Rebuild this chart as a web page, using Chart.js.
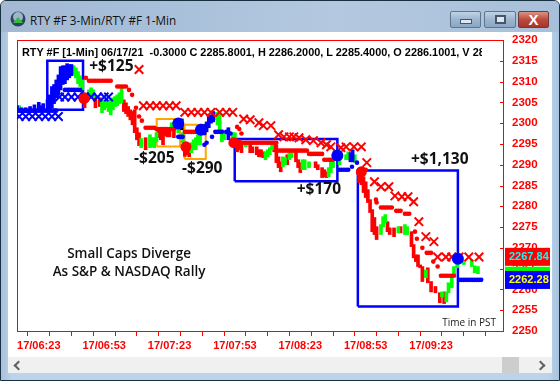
<!DOCTYPE html>
<html>
<head>
<meta charset="utf-8">
<title>RTY #F 3-Min/RTY #F 1-Min</title>
<script src="https://cdn.jsdelivr.net/npm/chart.js@4/dist/chart.umd.min.js"></script>
<style>
html,body{margin:0;padding:0;width:560px;height:381px;overflow:hidden;background:#fff}
#win{position:absolute;left:0;top:0;width:558px;height:379px;border:1px solid #16303f;border-radius:6px 6px 0 0;
  background:linear-gradient(90deg,#a9c0da 0,#bcd3ea 2%,#bcd3ea 98%,#a9c4de 100%)}
#bar{position:absolute;left:0;top:0;width:558px;height:31px;border-radius:5px 5px 0 0;
  background:linear-gradient(90deg,#a3b9d3 0,#a9c0da 30%,#b4c9df 60%,#a8bfd9 100%)}
#bar span{position:absolute;left:29px;top:11px;font:11.7px/17px "Open Sans",sans-serif;color:#111}
#icon{position:absolute;left:9px;top:10px}
.btn{position:absolute;top:10px;height:15px;border:1px solid #5d7690;border-radius:2px;
  background:linear-gradient(#c0d2e6,#9db5d0 50%,#8ba6c4)}
.btn i{position:absolute;display:block}
#client{position:absolute;left:7px;top:31px;width:544px;height:325px;background:#fff}
#sb{position:absolute;left:7px;top:356px;width:544px;height:16px;background:#f0f0f0}
#thumb{position:absolute;left:494px;top:0;width:17px;height:16px;background:#cdcdcd}
.chev{position:absolute;top:5px;width:5px;height:5px;border-left:2px solid #606060;border-bottom:2px solid #606060}
#header{position:absolute;left:22px;top:45px;width:460px;height:15px;overflow:hidden;white-space:pre;
  font:bold 10.9px/15px "Liberation Sans",Arial,sans-serif;color:#000;z-index:3}
canvas{position:absolute;left:0;top:0;z-index:2}
</style>
</head>
<body>
<div id="win">
  <div id="bar">
    <svg id="icon" width="17" height="17"><circle cx="8" cy="8" r="7.5" fill="#2d4660"/><circle cx="8" cy="6" r="5" fill="#9fb4c8"/><path d="M8 6l5 6H3z" fill="#2fbf3a"/></svg>
    <span>RTY #F 3-Min/RTY #F 1-Min</span>
    <div class="btn" style="left:449px;width:29px"><i style="left:9px;top:7px;width:10px;height:3px;background:#dfe6ee;border:1px solid #44566a"></i></div>
    <div class="btn" style="left:483px;width:30px"><i style="left:10px;top:3px;width:7px;height:5px;border:2px solid #44566a;background:#dfe6ee"></i></div>
    <div class="btn" style="left:517px;width:29px;background:linear-gradient(#d99486,#bd4a3c 50%,#a8352a);border-color:#6e3a38;color:#fff;font:bold 15px/15px 'Liberation Sans';text-align:center">X</div>
  </div>
  <div id="client"></div>
  <div id="sb">
    <div class="chev" style="left:7px;transform:rotate(45deg)"></div>
    <div id="thumb"></div>
    <div class="chev" style="left:529px;transform:rotate(225deg)"></div>
  </div>
</div>
<div id="header">RTY #F [1-Min] 06/17/21  -0.3000 C 2285.8001, H 2286.2000, L 2285.4000, O 2286.1001, V 28</div>
<canvas id="mycanvas" width="560" height="381"></canvas>
<script>
var timeTicks = [10, 40, 70, 100, 130, 160, 190];
var timeLabels = ['17/06:23', '17/06:53', '17/07:23', '17/07:53', '17/08:23', '17/08:53', '17/09:23'];

// price bars: minute, low, high
var blueBars = [[0,2302.5,2304.2],[2,2302.5,2303.7],[4,2302.5,2303.7],[6,2302.5,2304],[8,2302.5,2304.4],[10,2302.8,2305],[11,2302.8,2304.2],[12,2303,2304.7],
  [14,2303.2,2305.6],[15,2303.2,2306.8],[16,2303.7,2308.8],[17,2304.7,2309.3],[18,2306.1,2310.4],[19,2306.8,2311.6],[20,2308,2313.6],[21,2309.3,2313.8],
  [22,2309.5,2313.8],[23,2310.4,2314.3],[24,2310.9,2314.1],[25,2311.4,2314.1],[86,2297.2,2299.6],[87,2297.9,2300.3],[88,2298.9,2301.6],[89,2300,2302],[90,2300.3,2302.8],
  [97,2296,2298.9],[153,2290.7,2292.9],[154,2290.7,2293.6]];
var greenBars = [[1,2303.2,2304.2],[26,2311.6,2313.8],[27,2310.9,2313.3],[28,2309.5,2312.4],[29,2308.8,2311.4],[30,2308,2310.4],[33,2306.4,2308],[34,2306.8,2308.5],[35,2306.1,2308],
  [39,2302.5,2305.6],[40,2303.2,2305.2],[41,2303.7,2305.6],[42,2302.8,2305.2],[43,2302,2305.6],[44,2303.2,2306.1],[45,2304,2306.4],[46,2304.2,2306.8],[47,2304.7,2307.3],[48,2304.9,2308.5],
  [57,2294.1,2296.3],[61,2294.1,2297.2],[62,2294.3,2296.5],[63,2294.1,2296.5],[64,2295.5,2297.7],[71,2298.4,2300.1],[73,2298.4,2300.8],[74,2297.7,2300.1],[76,2295.3,2297.7],
  [80,2292.9,2295.3],[81,2293.6,2296],[82,2293.6,2296.5],[83,2294.8,2297.2],[84,2294.8,2297.7],[91,2300.8,2302.6],[92,2299.6,2302.6],[93,2298.4,2302.1],[94,2295.5,2298.4],[95,2296,2297.7],
  [99,2295.5,2297.7],[100,2295.5,2297.7],[105,2294.3,2295.5],[106,2294.8,2295.5],[114,2291.2,2293.1],[115,2291.9,2293.6],[116,2292.4,2294.1],[117,2293.6,2294.8],
  [122,2289.5,2291.9],[123,2290,2291.7],[125,2291.2,2292.9],[126,2291.7,2292.9],[131,2288.8,2291.2],[132,2288.8,2291.2],[134,2289.3,2290.7],
  [143,2287.1,2289.3],[144,2288.1,2291.2],[145,2289.3,2290.7],[148,2290,2291.2],[151,2291.2,2292.4],[152,2291.2,2293.1],[155,2290.5,2292.4],
  [167,2273.2,2275.6],[168,2275.1,2277.5],[169,2276.1,2278],[175,2273.6,2275.1],[178,2273.2,2275.6],[179,2273.2,2275.1],[187.6,2262.8,2264.7],
  [195,2258.2,2259.4],[197,2257,2259.4],[198,2259.2,2261.6],[199.5,2260.4,2263.1],[200.5,2263.1,2265.5],[202,2265.2,2266.7],[205,2266,2266.7],[208.7,2265.5,2267.1],[210,2264,2265.7],[211.5,2263.8,2265.5]];
var redBars = [[31,2303.7,2307.3],[36,2303.7,2306.4],[38,2304,2306.1],[49,2302.8,2305.6],[50,2302.3,2304.9],[51,2301.6,2304],[52,2300.8,2303.2],[53,2299.6,2302.8],[54,2297.7,2303.2],
  [55,2296,2298.9],[56,2294.6,2297.7],[59,2293.6,2296.5],[65,2296.5,2298.6],[66,2296,2298.6],[67,2294.8,2298.4],[68,2297,2298.4],[69,2296.7,2298.6],[70,2296.7,2298.6],[72,2296.5,2299.1],
  [77,2292,2294.8],[78,2292.4,2294.8],[79,2291.9,2294.3],[101,2293.1,2295.3],[102,2293.6,2296],[103,2292.9,2295.3],[107,2292.9,2295.5],[108,2292.9,2294.3],[110,2292.4,2294.3],
  [111,2291.9,2293.6],[112,2291.9,2293.6],[113,2291.7,2293.1],[118,2293.1,2295.3],[119,2290.5,2294.8],[120,2289.3,2291.9],[121,2288.3,2290.7],[124,2290,2292.4],
  [128,2290.7,2293.1],[129,2289.3,2291.2],[130,2288.1,2290.5],[137,2289.3,2290.7],[138,2288.8,2290],[140,2286.9,2289.3],[141,2287.1,2288.8],[142,2286.9,2288.3],
  [157,2285.7,2288.8],[158,2285.2,2288.1],[159,2283.3,2287.1],[160,2282.1,2285.9],[161,2280.9,2284],[162,2278.5,2281.6],[163,2273.9,2279.2],[164,2273.2,2277.3],[165,2272,2275.1],
  [170,2273.9,2276.3],[171,2273.2,2274.8],[173,2272.7,2274.8],[176,2273.6,2275.1],[181,2270.3,2273.9],[182,2267.6,2270.8],[183,2266.7,2268.3],[184,2265.5,2268.3],[185,2265.2,2265.9],
  [186,2261.9,2265.5],[188.5,2261.6,2265.2],[190,2259.4,2261.9],[192,2259.2,2260.7],[194,2256.8,2259.2],[196,2256.6,2259.4]];
var magentaBars = [[47,2304.9,2306.4]];
var blackBars = [[75.6,2298.4,2301],[86,2297.2,2299.6]];

// trailing stops from the 3-min chart: minute, price
var redCrosses = [[56,2312.9],[58,2304.2],[61,2304.2],[64,2304.2],[67,2304.2],[70,2304.2],[73,2304.2],[77,2302.6],[80,2302.6],[83,2302.6],[86,2302.6],[89,2302.6],[93,2302.6],[96,2302.6],[99,2302.6],
  [104,2301],[107,2300.8],[111,2300.1],[113,2299.4],[116.5,2299.4],[120,2297.2],[122.5,2296.7],[125,2296.7],[127,2296.7],[129.4,2296.5],[132.5,2296],[136,2295.8],[139.5,2295.3],[142,2294.8],[144,2294.3],
  [148.6,2294.1],[151,2294.3],[154.6,2294.3],[158,2294.3],[160.5,2290.5],[164,2285.9],[167,2284.7],[170.6,2284.7],[173.4,2282.5],[176.6,2282.3],[179.4,2282.3],[182,2281.1],[184.4,2276.3],[187.6,2272.7],
  [191.3,2271.5],[193,2267.8],[196.8,2267.8],[199.5,2267.8],[202.8,2267.8],[207.3,2267.8],[212,2267.8]];
var blueCrosses = [[1,2301.6],[4,2301.6],[7,2301.6],[10,2301.6],[13,2301.6],[16,2301.6],[19,2301.6],[19.5,2306.3],[22,2306.3],[25,2306.3],[28,2306.3],[31,2306.3],[34,2306.3],[37,2306.3],[40,2306.3],[42,2306.3]];

// 1-min stop dots: minute, price
var redDots = [[31.6,2310.9],[33,2310.2],[34,2310.2],[35,2310.2],[36,2310.2],[37,2310.2],[38,2310.2],[39,2310.2],[40,2310.2],[41,2310.2],[42,2310.2],[43,2310.2],[46,2308.8],[47,2308.8],[48,2308.8],[49,2308.8],[50,2308.8],[51.4,2308],[52.8,2306.8],[54.6,2303.7],[56,2301.6],[57.3,2300.6],
  [59,2298.9],[60,2298.9],[61,2298.9],[62,2298.9],[63,2298.9],[64,2298.6],[65,2298.6],[66,2298.6],[67,2298.6],[68,2298.6],[69,2298.6],[70,2298.6],[71,2298.6],[72,2298.6],[77,2297.9],[78,2297.9],[79,2297.9],[80,2297.9],[81,2297.9],[82,2297.9],[83,2297.9],
  [101,2299.1],[102,2298.6],[103,2297.5],[100,2295.3],[101,2295.3],[102,2295.3],[103,2295.3],[104,2295.3],[105,2295.3],[106,2295.3],[107,2295.3],[108,2295.3],[109,2295.3],[110,2295.3],[111,2295.3],[112,2295.3],[113,2295.3],[114,2295.3],[115,2295.3],[116,2295.3],[117,2295.3],[118,2295.3],[119,2295.3],
  [120,2293.4],[121,2293.4],[122,2293.4],[123,2293.4],[124,2293.4],[125,2293.4],[126,2293.4],[127,2293.4],[128,2293.4],[129,2293.4],[130,2293.4],[131,2293.4],[132,2293.4],[133,2293.4],[134,2292.6],[135,2292.6],[136,2292.6],[137,2292.6],[138,2292.6],[139,2292.6],[140,2292.6],[141,2291.2],[142,2291.2],[143,2291.2],[144,2291.2],[145,2291.2],
  [157,2288.8],[158,2288.8],[159,2288.8],[160,2288.8],[164.7,2281.6],[165,2280.9],[167,2279.7],[168,2279.7],[169,2279.7],[170,2279.7],[171,2279.7],[172,2279.7],[174,2278.9],[175,2278.9],[176,2278.9],[178,2278.2],[179,2278.2],[180,2278.2],
  [182.6,2273.9],[183.5,2272.2],[186,2270],[188,2268.8],[189,2268.8],[190,2268.8],[191,2266.7],[193,2265.5],[194.5,2263.3],[195.5,2263.3],[196.5,2263.3],[197.5,2263.3],[198.5,2263.3],[199.5,2263.3],[200.5,2263.3]];
var blueDots = [[0,2303],[1,2303],[2,2303],[3,2303],[4,2303],[5,2303],[6,2303],[7,2303],[8,2303],[9,2303],[10,2303],[11,2303],[12,2303],[13,2303],[14,2303],[15,2303],[16,2303],[17,2303],[18,2303],
  [22,2308],[23,2308],[24,2308],[25,2308],[26,2308],[27,2308],[28,2308],[29,2308],
  [74,2296.7],[75,2296.7],[76,2296.7],[86,2294.8],[87,2295.3],[89.5,2296.7],[91,2297.9],[92,2297.9],[93,2297.9],[94,2297.9],[96,2297.9],[97,2297.7],[98,2297.5],
  [148,2288.8],[149,2288.8],[150,2288.8],[151,2288.8],[152,2288.8],[153.7,2289.5],[156,2290.5],[203,2262.3],[204,2262.3],[205,2262.3],[206,2262.3],[207,2262.3],[208,2262.3],[209,2262.3],[210,2262.3],[211,2262.3],[212,2262.3],[213,2262.3]];

// trade entries
var blueEntries = [[74,2299.9],[84.4,2298.4],[147,2292.2],[202.3,2267.4]];
var redEntries = [[30.7,2305.9],[77.5,2294.3],[99.5,2295.3],[158,2288.3]];

// trade boxes: from, to, low, high
var blueBoxes = [[13.9,30.3,2303.2,2315],[99.9,147,2286,2296.2],[156.4,202.3,2255.9,2288.6]];
var orangeBoxes = [[64.1,74.8,2294.4,2301],[76.9,86.6,2291.4,2299.6]];

// notes on the chart
var noteTexts = ['+$125', '-$205', '-$290', '+$170', '+$1,130'];
var noteTimes = [43.3, 63, 85, 138.5, 194];
var notePrices = [2313.5, 2291.5, 2289, 2284, 2291.2];
var titleTexts = ['Small Caps Diverge', 'As S&P & NASDAQ Rally'];
var titleTimes = [51.4, 51.4];
var titlePrices = [2268.6, 2264.1];

// last value tags
var tagTexts = ['2263.30', '2267.84', '2262.28'];
var tagPrices = [2263.3, 2267.84, 2262.28];
var tagColors = ['#00ff00', '#ff0000', '#0000ff'];
var tagTextColors = ['#ff00ff', '#00ffff', '#ffff00'];

function points(rows) {
  return rows.map(function(r) { return {x: r[0], y: r[1]}; });
}
function bars(rows, color) {
  return {
    type: 'bar',
    data: rows.map(function(r) { return {x: r[0], y: [r[1], r[2]]}; }),
    backgroundColor: color,
    barThickness: 3,
    grouped: false,
    order: 5
  };
}
function marks(rows, color, style, radius, width, order) {
  return {
    type: 'line',
    data: points(rows),
    showLine: false,
    pointStyle: style,
    pointRadius: radius,
    pointBorderColor: color,
    pointBackgroundColor: color,
    pointBorderWidth: width,
    order: order
  };
}
function box(b, color, width) {
  return {
    type: 'line',
    data: [{x: b[0], y: b[2]}, {x: b[1], y: b[2]}, {x: b[1], y: b[3]}, {x: b[0], y: b[3]}, {x: b[0], y: b[2]}],
    borderColor: color,
    borderWidth: width,
    pointRadius: 0,
    tension: 0,
    order: 9
  };
}

var datasets = [
  bars(blueBars, '#0000ff'), bars(greenBars, '#00ff00'), bars(redBars, '#ff0000'), bars(magentaBars, '#ff00ff'), bars(blackBars, '#000000'),
  marks(redCrosses, '#ff0000', 'crossRot', 6, 2, 3),
  marks(blueCrosses, '#0000ff', 'crossRot', 6, 2, 3),
  marks(redDots, '#ff0000', 'circle', 2.3, 0, 2),
  marks(blueDots, '#0000ff', 'circle', 2.3, 0, 2),
  marks(redEntries, '#ff0000', 'circle', 5.5, 0, 1),
  marks(blueEntries, '#0000ff', 'circle', 6, 0, 1)
];
blueBoxes.forEach(function(b) { datasets.push(box(b, '#0000ff', 2.5)); });
orangeBoxes.forEach(function(b) { datasets.push(box(b, '#ffa500', 2)); });

var chartDecor = {
  id: 'chartDecor',
  beforeDatasetsDraw: function(chart) {
    var c = chart.ctx, a = chart.chartArea;
    c.save();
    c.strokeStyle = '#ff0000';
    c.lineWidth = 1;
    c.strokeRect(a.left + 0.5, a.top + 0.5, a.right - a.left, a.bottom - a.top);
    // price ticks point into the plot
    chart.scales.y.ticks.forEach(function(t) {
      var y = Math.round(chart.scales.y.getPixelForValue(t.value)) + 0.5;
      c.beginPath();
      c.moveTo(a.right - 3, y);
      c.lineTo(a.right, y);
      c.stroke();
    });
    c.restore();
  },
  afterDraw: function(chart) {
    var c = chart.ctx, a = chart.chartArea, xs = chart.scales.x, ys = chart.scales.y;
    c.save();
    c.textAlign = 'center';
    c.textBaseline = 'middle';
    c.fillStyle = '#111111';
    c.font = 'bold 15.5px "Open Sans"';
    noteTexts.forEach(function(s, i) {
      c.fillText(s, xs.getPixelForValue(noteTimes[i]), ys.getPixelForValue(notePrices[i]));
    });
    c.font = '600 13.5px "Open Sans"';
    titleTexts.forEach(function(s, i) {
      c.fillText(s, xs.getPixelForValue(titleTimes[i]), ys.getPixelForValue(titlePrices[i]));
    });
    c.font = '10px "Open Sans"';
    c.textAlign = 'right';
    c.fillStyle = '#222222';
    c.fillText('Time in PST', a.right - 7, 323);
    c.font = 'bold 11px "Liberation Sans"';
    c.textAlign = 'left';
    tagTexts.forEach(function(s, i) {
      var y = ys.getPixelForValue(tagPrices[i]);
      c.fillStyle = tagColors[i];
      c.fillRect(a.right + 2, y - 9, 45, 18);
      c.fillStyle = tagTextColors[i];
      c.fillText(s, a.right + 6, y + 0.5);
    });
    c.restore();
  }
};

var ctx = document.getElementById('mycanvas');
var chart = new Chart(ctx, {
  type: 'bar',
  data: {datasets: datasets},
  options: {
    responsive: false,
    animation: false,
    layout: {padding: {left: 17, top: 40, right: 0, bottom: 0}},
    plugins: {legend: {display: false}, tooltip: {enabled: false}, title: {display: false}},
    scales: {
      x: {
        type: 'linear',
        offset: false,
        min: 0,
        max: 223,
        afterFit: function(s) { s.height = 50; },
        afterBuildTicks: function(s) { s.ticks = s.ticks.filter(function(t) { return t.value % 10 === 0 && t.value <= 210; }); },
        border: {display: false},
        grid: {drawOnChartArea: false, color: '#ff0000', tickLength: 5},
        ticks: {
          stepSize: 10,
          autoSkip: false,
          maxRotation: 0,
          padding: 3,
          color: '#ff0000',
          font: {family: '"Liberation Sans"', weight: 'bold', size: 11},
          callback: function(v) {
            var i = timeTicks.indexOf(v);
            return i < 0 ? '' : timeLabels[i];
          }
        }
      },
      y: {
        position: 'right',
        min: 2250,
        max: 2320,
        afterFit: function(s) { s.width = 57; },
        border: {display: false},
        grid: {drawOnChartArea: false, drawTicks: false},
        ticks: {
          stepSize: 5,
          padding: 9,
          color: '#ff0000',
          font: {family: '"Liberation Sans"', weight: 'bold', size: 11.5},
          callback: function(v) { return String(v); }
        }
      }
    }
  },
  plugins: [chartDecor]
});
</script>
</body>
</html>
